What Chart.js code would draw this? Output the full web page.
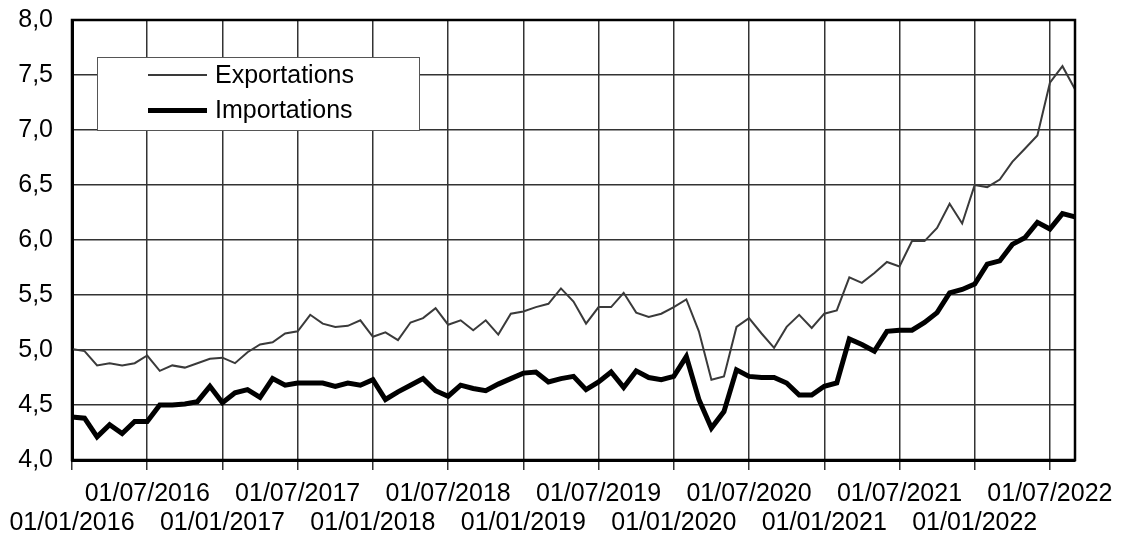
<!DOCTYPE html>
<html lang="fr">
<head>
    <meta charset="UTF-8">
    <title>Exportations / Importations</title>
    <style>
        * { margin: 0; padding: 0; box-sizing: border-box; }
        body { background: #fff; }
        .chart-box { position: relative; width: 1121px; height: 539px; }
    </style>
</head>
<body>
    <div class="chart-box">
        <canvas id="tradeChart"></canvas>
    </div>

    <script src="https://cdn.jsdelivr.net/npm/chart.js@4/dist/chart.umd.min.js"></script>
    <script>
        // Monthly data, Jan 2016 -> Sep 2022
        const exportations = [
            5.01, 4.99, 4.86, 4.88, 4.86, 4.88, 4.95, 4.81, 4.86, 4.84, 4.88, 4.92,
            4.93, 4.88, 4.98, 5.05, 5.07, 5.15, 5.17, 5.32, 5.24, 5.21, 5.22, 5.27,
            5.12, 5.16, 5.09, 5.25, 5.29, 5.38, 5.23, 5.27, 5.18, 5.27, 5.14, 5.33,
            5.35, 5.39, 5.42, 5.56, 5.44, 5.24, 5.39, 5.39, 5.52, 5.34, 5.30, 5.33,
            5.39, 5.46, 5.17, 4.73, 4.76, 5.21, 5.29, 5.15, 5.02, 5.21, 5.32, 5.20,
            5.33, 5.36, 5.66, 5.61, 5.70, 5.80, 5.76, 5.99, 5.99, 6.11, 6.33, 6.15,
            6.50, 6.48, 6.55, 6.71, 6.83, 6.95, 7.43, 7.58, 7.37
        ];
        const importations = [
            4.39, 4.38, 4.21, 4.32, 4.24, 4.35, 4.35, 4.50, 4.50, 4.51, 4.53, 4.67,
            4.52, 4.61, 4.64, 4.57, 4.74, 4.68, 4.70, 4.70, 4.70, 4.67, 4.70, 4.68,
            4.73, 4.55, 4.62, 4.68, 4.74, 4.63, 4.58, 4.68, 4.65, 4.63, 4.69, 4.74,
            4.79, 4.80, 4.71, 4.74, 4.76, 4.64, 4.71, 4.80, 4.66, 4.81, 4.75, 4.73,
            4.76, 4.94, 4.55, 4.29, 4.44, 4.82, 4.76, 4.75, 4.75, 4.70, 4.59, 4.59,
            4.67, 4.70, 5.10, 5.05, 4.99, 5.17, 5.18, 5.18, 5.25, 5.34, 5.52, 5.55,
            5.60, 5.78, 5.81, 5.96, 6.02, 6.16, 6.10, 6.24, 6.21
        ];
        const firstYear = 2016;
        const yTicks = { min: 4, max: 8, step: 0.5 };

        // category labels 01/MM/YYYY
        const months = exportations.map((_, i) => {
            const m = (i % 12) + 1;
            const y = firstYear + Math.floor(i / 12);
            return '01/' + String(m).padStart(2, '0') + '/' + y;
        });

        const FONT = "'Liberation Sans', Arial, sans-serif";

        // legend box drawn inside the plot, top-left
        const boxLegend = {
            id: 'boxLegend',
            afterDatasetsDraw(chart) {
                const ctx = chart.ctx;
                const x = 97, y = 57, w = 322, h = 73;
                ctx.save();
                ctx.fillStyle = '#fff';
                ctx.fillRect(x, y, w, h);
                ctx.strokeStyle = '#555';
                ctx.lineWidth = 1;
                ctx.strokeRect(x + 0.5, y + 0.5, w, h);
                ctx.font = '25px ' + FONT;
                ctx.textBaseline = 'middle';
                ctx.fillStyle = '#000';
                chart.data.datasets.forEach((ds, i) => {
                    const ly = y + 18 + i * 35.5;
                    ctx.strokeStyle = ds.borderColor;
                    ctx.lineWidth = ds.borderWidth;
                    ctx.beginPath();
                    ctx.moveTo(148, ly);
                    ctx.lineTo(207, ly);
                    ctx.stroke();
                    ctx.fillText(ds.label, 215, ly + 1);
                });
                ctx.restore();
            }
        };

        // frame around plot area
        const frame = {
            id: 'frame',
            afterDraw(chart) {
                const a = chart.chartArea;
                const ctx = chart.ctx;
                ctx.save();
                ctx.strokeStyle = '#000';
                ctx.lineWidth = 2.5;
                ctx.strokeRect(a.left, a.top, a.right - a.left, a.bottom - a.top);
                ctx.restore();
            }
        };

        new Chart(document.getElementById('tradeChart'), {
            type: 'line',
            data: {
                labels: months,
                datasets: [
                    {
                        label: 'Exportations',
                        data: exportations,
                        borderColor: '#3a3a3a',
                        borderWidth: 2,
                        pointRadius: 0,
                        tension: 0
                    },
                    {
                        label: 'Importations',
                        data: importations,
                        borderColor: '#000',
                        borderWidth: 5,
                        pointRadius: 0,
                        tension: 0
                    }
                ]
            },
            options: {
                responsive: true,
                maintainAspectRatio: false,
                animation: false,
                layout: { padding: { top: 20, right: 46, left: 0, bottom: 0 } },
                plugins: {
                    legend: { display: false },
                    tooltip: { enabled: false }
                },
                scales: {
                    x: {
                        type: 'category',
                        offset: false,
                        afterFit: s => {
                            s.height = 79;
                            s.paddingLeft = 0;
                            s.paddingRight = 0;
                        },
                        grid: {
                            color: '#333',
                            lineWidth: 1.5,
                            tickLength: 10,
                            tickColor: '#333'
                        },
                        border: { color: '#000', width: 3 },
                        ticks: {
                            autoSkip: false,
                            maxRotation: 0,
                            minRotation: 0,
                            padding: 10,
                            color: '#000',
                            font: { family: FONT, size: 25, lineHeight: 1.14 },
                            callback: function (val, i) {
                                if (i % 6 !== 0) return null;
                                const lab = months[i];
                                return (i % 12 === 0) ? ['', lab] : [lab, ''];
                            }
                        }
                    },
                    y: {
                        min: yTicks.min,
                        max: yTicks.max,
                        afterFit: s => {
                            s.width = 72;
                            s.paddingTop = 0;
                            s.paddingBottom = 0;
                        },
                        grid: {
                            color: '#333',
                            lineWidth: 1.5,
                            drawTicks: false
                        },
                        border: { color: '#000', width: 3 },
                        ticks: {
                            stepSize: yTicks.step,
                            padding: 19,
                            color: '#000',
                            font: { family: FONT, size: 25 },
                            callback: v => v.toFixed(1).replace('.', ',')
                        }
                    }
                }
            },
            plugins: [boxLegend, frame]
        });
    </script>
</body>
</html>
